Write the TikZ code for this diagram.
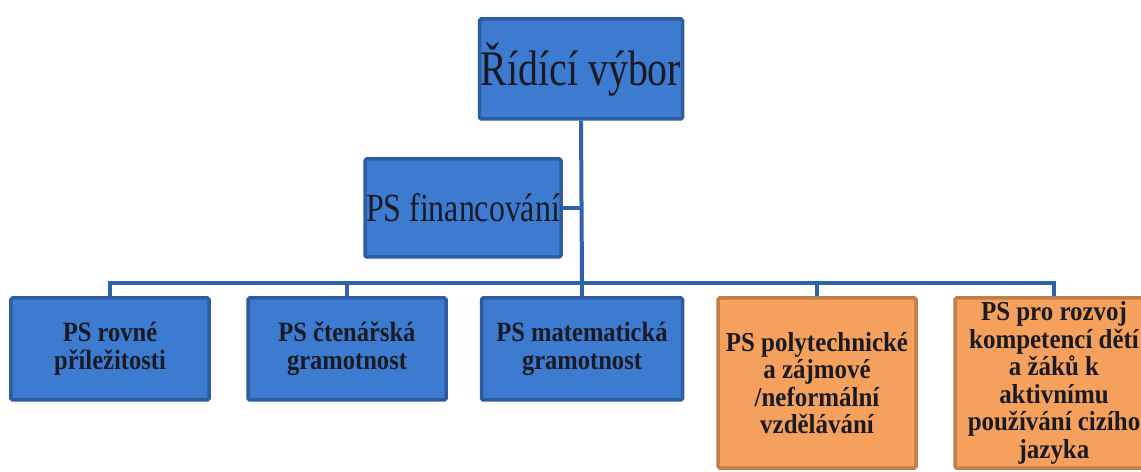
\documentclass[tikz,border=0pt]{standalone}
\usepackage{fontspec}
\setmainfont{Liberation Serif}[FakeStretch=0.8]
\newfontfamily\bluefont{Liberation Serif}[FakeStretch=0.88]
\newfontfamily\orangefont{Liberation Serif}[FakeStretch=0.91]
\definecolor{bluefill}{HTML}{3C7BD0}
\definecolor{blueedge}{HTML}{2D5C9F}
\definecolor{lineblue}{HTML}{2E62AA}
\definecolor{orangefill}{HTML}{F5A05C}
\definecolor{orangeedge}{HTML}{C07E4C}
\definecolor{txt}{HTML}{1A1A24}
\tikzset{
  bluebox/.style={draw=blueedge, line width=3.5bp, fill=bluefill, rounded corners=1.5bp, text=txt, align=center, inner sep=0pt},
  orangebox/.style={draw=orangeedge, line width=3.5bp, fill=orangefill, rounded corners=1.5bp, text=txt, align=center, inner sep=0pt},
  conn/.style={draw=lineblue, line width=4bp}
}
\begin{document}
\begin{tikzpicture}[x=1bp,y=-1bp]
\useasboundingbox (0,0) rectangle (1141,472);
\clip (0,0) rectangle (1141,472);
\fill[white] (0,0) rectangle (1141,472);
% nodes
\node[bluebox, minimum width=203bp, minimum height=100bp, font=\fontsize{50}{52}\selectfont] (top) at (581,69) {Řídící výbor};
\node[bluebox, minimum width=196bp, minimum height=98bp, font=\fontsize{40}{42}\selectfont] (fin) at (463,208) {PS financování};
\node[bluebox, minimum width=198bp, minimum height=102bp, font=\bluefont\bfseries\fontsize{28}{28}\selectfont] (b1) at (110,349) {PS rovné\\příležitosti};
\node[bluebox, minimum width=198bp, minimum height=102bp, font=\bluefont\bfseries\fontsize{28}{28}\selectfont] (b2) at (347,349) {PS čtenářská\\gramotnost};
\node[bluebox, minimum width=201bp, minimum height=102bp, font=\bluefont\bfseries\fontsize{28}{28}\selectfont] (b3) at (582,349) {PS matematická\\gramotnost};
\node[orangebox, minimum width=198bp, minimum height=170bp, font=\orangefont\bfseries\fontsize{27.5}{27.6}\selectfont] (b4) at (817,383) {PS polytechnické\\a zájmové\\/neformální\\vzdělávání};
\node[orangebox, minimum width=198bp, minimum height=170bp, font=\orangefont\bfseries\fontsize{27.5}{27.6}\selectfont] (b5) at (1054,383) {PS pro rozvoj\\kompetencí dětí\\a žáků k\\aktivnímu\\používání cizího\\jazyka};
\coordinate (bus) at (582,283);
% connectors
\draw[conn] (top.south) -- (bus);
\draw[conn] (fin.east) -- (fin.east -| top.south);
\draw[conn] (b1.north) |- (bus);
\draw[conn] (b2.north) |- (bus);
\draw[conn] (b3.north) -- (bus);
\draw[conn] (b4.north) |- (bus);
\draw[conn] (b5.north) |- (bus);
\end{tikzpicture}
\end{document}
